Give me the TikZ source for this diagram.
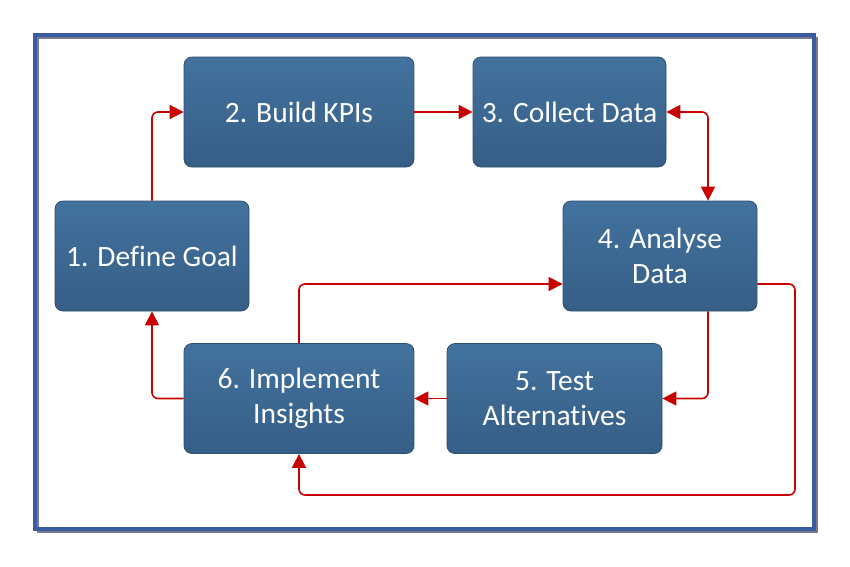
\documentclass[tikz,border=0pt]{standalone}
\usepackage{fontspec}
\setmainfont[Ligatures=NoCommon]{Carlito}
\usetikzlibrary{arrows.meta}
\definecolor{boxtop}{RGB}{66,114,158}
\definecolor{boxbot}{RGB}{54,94,134}
\definecolor{boxline}{RGB}{44,78,112}
\definecolor{flowred}{RGB}{200,0,0}
\definecolor{framblue}{RGB}{58,92,162}
\definecolor{framgray}{RGB}{120,124,138}
\tikzset{
  procbox/.style={draw=boxline, line width=0.8pt, rounded corners=8pt,
    top color=boxtop, bottom color=boxbot, text=white, align=center,
    minimum height=110pt, inner sep=2pt, font=\fontsize{29.5}{35}\selectfont},
  flow/.style={draw=flowred, line width=1.6pt, rounded corners=6pt,
    -{Triangle[length=14pt,width=14pt]}},
}
\begin{document}
\begin{tikzpicture}[x=1pt, y=-1pt]
\useasboundingbox (0,0) rectangle (850,566);
% frame
\draw[framgray, line width=2pt] (38,38) rectangle (817,532);
\draw[framblue, line width=4pt] (35,35) rectangle (814,529);

% steps
\node[procbox, minimum width=194pt] (dg) at (152,256) {1. Define Goal};
\node[procbox, minimum width=230pt] (kp) at (299,112) {2. Build KPIs};
\node[procbox, minimum width=193pt] (cd) at (569.5,112) {3. Collect Data};
\node[procbox, minimum width=194pt] (ad) at (660,256) {4. Analyse\\Data};
\node[procbox, minimum width=215pt] (ta) at (554.5,398.5) {5. Test\\Alternatives};
\node[procbox, minimum width=230pt] (ii) at (299,398.5) {6. Implement\\Insights};
\coordinate (lp) at (795,495);

% connectors
\draw[flow] (dg.north) |- (kp.west);
\draw[flow] (kp.east) -- (cd.west);
\draw[flow, {Triangle[length=14pt,width=14pt]}-{Triangle[length=14pt,width=14pt]}]
  (cd.east) -| ([xshift=48pt]ad.north);
\draw[flow] ([xshift=48pt]ad.south) |- (ta.east);
\draw[flow] (ta.west) -- (ii.east);
\draw[flow] (ii.west) -| (dg.south);
\draw[flow] (ii.north) |- ([yshift=-28pt]ad.west);
\draw[flow] ([yshift=-28pt]ad.east) -| (lp) -| (ii.south);
\end{tikzpicture}
\end{document}
